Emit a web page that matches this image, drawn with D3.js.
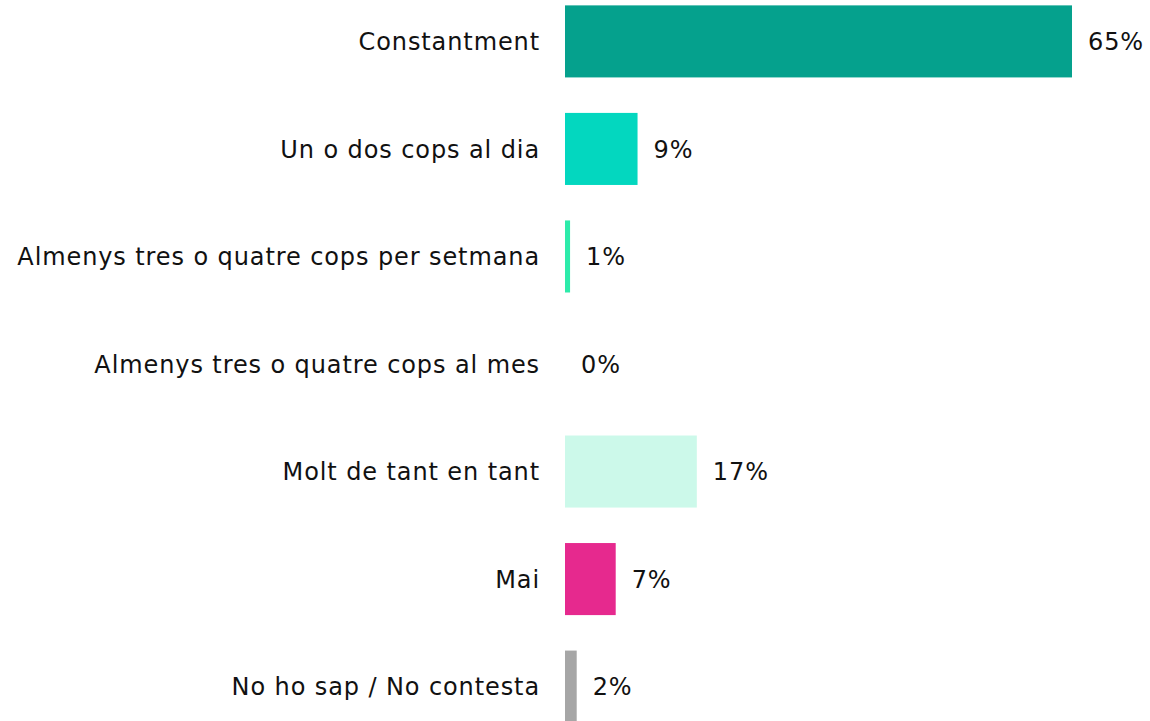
<!DOCTYPE html>
<html>
<head>
<meta charset="utf-8">
<script src="https://cdn.jsdelivr.net/npm/d3@7"></script>
<style>
    body { margin: 0; background: #fff; }
    .cat, .val { font-family: "DejaVu Sans", sans-serif; font-size: 24px; letter-spacing: 0.9px; fill: #111; }
</style>
</head>
<body>
<div id="chart"></div>
<script>
    const categories = [
        "Constantment",
        "Un o dos cops al dia",
        "Almenys tres o quatre cops per setmana",
        "Almenys tres o quatre cops al mes",
        "Molt de tant en tant",
        "Mai",
        "No ho sap / No contesta"
    ];
    // bar lengths, labels as printed
    const values = [65, 9.3, 0.65, 0, 16.9, 6.5, 1.5];
    const labels = ["65%", "9%", "1%", "0%", "17%", "7%", "2%"];
    const colors = ["#05a18d", "#03d7bf", "#2debaa", "#7ff2c7", "#ccf9ea", "#e6298e", "#a6a6a6"];

    const width = 1150;
    const height = 721;

    const svg = d3.select("#chart").append("svg").attr("width", width).attr("height", height);

    const x = d3.scaleLinear().domain([0, 65]).range([565, 1072]);
    const y = d3.scaleBand().domain(categories).range([0, 728]).paddingInner(0.33).paddingOuter(0.05);

    const rows = categories.map((c, i) => ({cat: c, value: values[i], label: labels[i], color: colors[i]}));

    svg.selectAll(".bar").data(rows).enter().append("rect")
        .attr("class", "bar")
        .attr("x", x(0))
        .attr("y", d => y(d.cat))
        .attr("width", d => x(d.value) - x(0))
        .attr("height", y.bandwidth())
        .attr("fill", d => d.color);

    svg.selectAll(".cat").data(rows).enter().append("text")
        .attr("class", "cat")
        .attr("x", 540)
        .attr("y", d => y(d.cat) + y.bandwidth() / 2)
        .attr("dy", "0.36em")
        .attr("text-anchor", "end")
        .text(d => d.cat);

    svg.selectAll(".val").data(rows).enter().append("text")
        .attr("class", "val")
        .attr("x", d => x(d.value) + 16)
        .attr("y", d => y(d.cat) + y.bandwidth() / 2)
        .attr("dy", "0.36em")
        .text(d => d.label);
</script>
</body>
</html>
